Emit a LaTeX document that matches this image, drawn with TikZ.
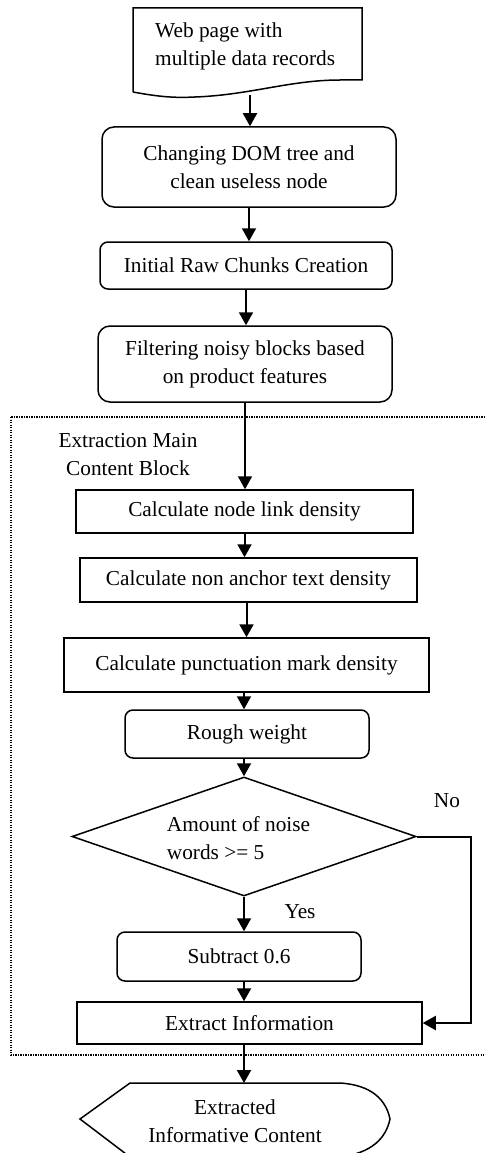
\documentclass[tikz,border=0pt]{standalone}
\usepackage{fontspec}
\setmainfont{Liberation Serif}
\usetikzlibrary{shapes.geometric,arrows.meta,calc}
\tikzset{
  box/.style={draw, line width=1.5pt, inner sep=0pt, align=center},
  rbox/.style={box, rounded corners=10pt},
  arr/.style={-{Triangle[length=13pt,width=14pt]}, line width=2pt},
  lbl/.style={inner sep=0pt, align=center},
}
\begin{document}
\begin{tikzpicture}[x=1pt,y=-1pt, font=\fontsize{21.3}{28}\selectfont]
\useasboundingbox (0,0) rectangle (486,1153);
% dotted group frame
\draw[line width=1.2pt, dash pattern=on 1.2pt off 1.3pt] (11,417) rectangle (500,1055);
\node[lbl] (grp) at (128,455) {Extraction Main\\Content Block};
% document shape
\draw[line width=1.5pt] (133,92) -- (133,8) -- (362,8) -- (362,80) -- (340,80)
   .. controls (290,80) and (250,95) .. (195,97)
   .. controls (175,98) and (160,97) .. (133,92);
\node[lbl, anchor=west, align=left] (doc) at (155,46) {Web page with\\multiple data records};
\coordinate (docb) at (250,95);
% boxes
\node[rbox, rounded corners=12pt, minimum width=294pt, minimum height=80pt] (chg) at (249,167) {Changing DOM tree and\\clean useless node};
\node[rbox, rounded corners=8pt, minimum width=292pt, minimum height=47pt] (ini) at (246,265.5) {Initial Raw Chunks Creation};
\node[rbox, rounded corners=12pt, minimum width=294pt, minimum height=76pt] (fil) at (245,364) {Filtering noisy blocks based\\on product features};
\node[box, minimum width=337pt, minimum height=43pt] (c1) at (244.5,511.5) {Calculate node link density};
\node[box, minimum width=337pt, minimum height=44pt] (c2) at (248.5,580) {Calculate non anchor text density};
\node[box, minimum width=365pt, minimum height=54pt] (c3) at (246.5,665) {Calculate punctuation mark density};
\node[rbox, rounded corners=8pt, minimum width=244pt, minimum height=48pt] (rw) at (247,734) {Rough weight};
\node[draw, line width=1.5pt, diamond, aspect=2.89, inner sep=0pt, minimum width=344pt, minimum height=119pt] (dia) at (244,836.5) {};
\node[lbl, align=left] (diat) at (238.5,838) {Amount of noise\\words >= 5};
\node[rbox, rounded corners=8pt, minimum width=244pt, minimum height=49pt] (sub) at (239,956.5) {Subtract 0.6};
\node[box, minimum width=345pt, minimum height=42pt] (ext) at (249.5,1023) {Extract Information};
% display shape
\draw[line width=1.5pt] (80,1119) -- (130,1083) -- (340,1083)
   .. controls (372,1085) and (386,1100) .. (390,1119)
   .. controls (386,1138) and (372,1153) .. (340,1157)
   -- (130,1157) -- cycle;
\node[lbl] (disp) at (235,1121) {Extracted\\Informative Content};
\coordinate (dtop) at (244,1083);
% labels
\node[lbl] (no) at (447,801) {No};
\node[lbl] (yes) at (300,912) {Yes};
% connectors
\draw[arr] (docb) -- (docb |- chg.north);
\draw[arr] (chg.south) -- (chg.south |- ini.north);
\draw[arr] (ini.south) -- (ini.south |- fil.north);
\draw[arr] (fil.south) -- (fil.south |- c1.north);
\draw[arr] (c1.south) -- (c1.south |- c2.north);
\draw[arr] (c2.south -| c3.south) -- (c3.north);
\draw[arr] (c3.south -| dia.north) -- (dia.north |- rw.north);
\draw[arr] (rw.south -| dia.north) -- (dia.north);
\draw[arr] (dia.south) -- (dia.south |- sub.north);
\draw[arr] (sub.south -| dia.south) -- (dia.south |- ext.north);
\draw[arr] (ext.south -| dia.south) -- (dtop);
\draw[arr] (dia.east) -- ++(54,0) |- (ext.east);
\end{tikzpicture}
\end{document}
